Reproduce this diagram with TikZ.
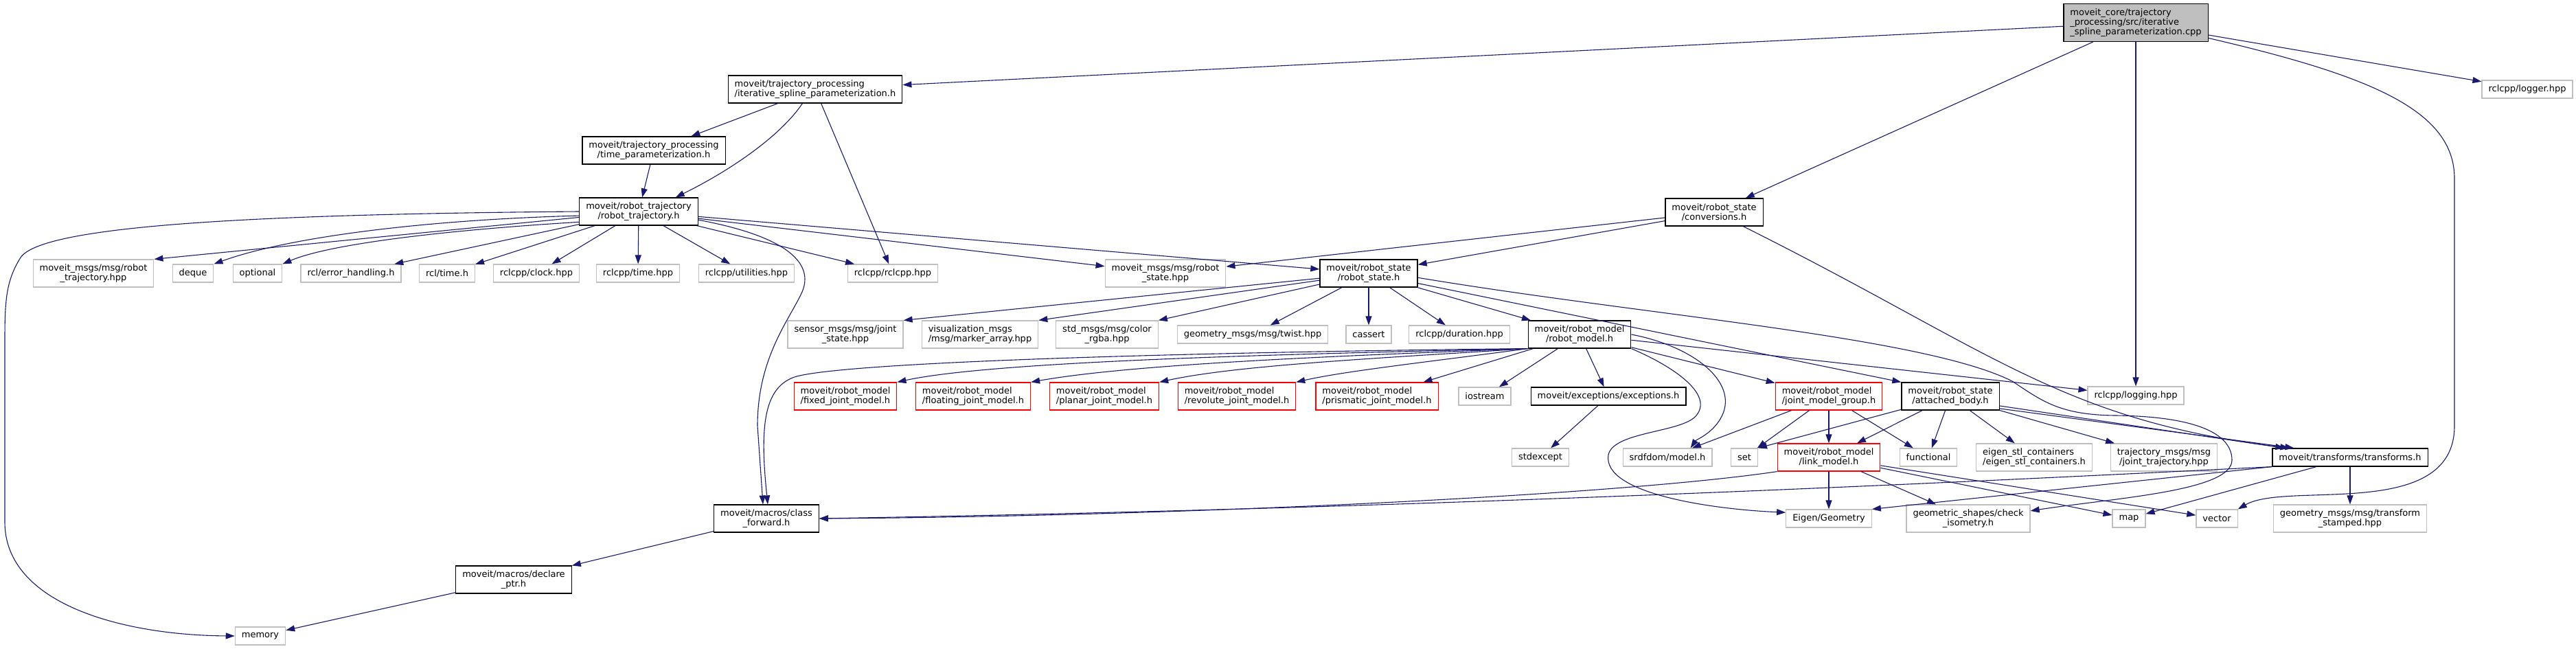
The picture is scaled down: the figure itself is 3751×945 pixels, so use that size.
\documentclass[tikz,border=0pt]{standalone}
\usepackage{fontspec}
\setmainfont{DejaVu Sans}
\usetikzlibrary{arrows.meta}
\definecolor{edgeblue}{HTML}{191970}
\definecolor{extgray}{HTML}{BFBFBF}
\tikzset{
  doc/.style={draw=black, fill=white, line width=1.2pt, inner xsep=9.5pt, inner ysep=2pt,
    minimum height=26pt, align=center, font=\fontsize{13pt}{14pt}\selectfont},
  ext/.style={doc, draw=extgray},
  trunc/.style={doc, draw=red},
  rootfile/.style={doc, fill=extgray},
  lft/.style={align=left},
  twoline/.style={minimum height=40pt},
  threeline/.style={minimum height=55pt},
  inc/.style={->, draw=edgeblue, line width=1.1pt}
}
\begin{document}
\begin{tikzpicture}[x=1pt,y=-1pt,>={Triangle[length=13pt,width=9pt]}]
\useasboundingbox (0,0) rectangle (3751,945);

\node[rootfile,threeline,lft] (root) at (3110,33) {moveit\_core/trajectory\\\_processing/src/iterative\\\_spline\_parameterization.cpp};
\node[ext] (logger) at (3680,130) {rclcpp/logger.hpp};
\node[doc,twoline,lft] (isp) at (1187,130) {moveit/trajectory\_processing\\/iterative\_spline\_parameterization.h};
\node[doc,twoline] (tparam) at (952,219) {moveit/trajectory\_processing\\/time\_parameterization.h};
\node[doc,twoline] (rtraj) at (930,308) {moveit/robot\_trajectory\\/robot\_trajectory.h};
\node[doc,twoline] (conv) at (2496,309) {moveit/robot\_state\\/conversions.h};

\node[ext,twoline] (mtraj) at (136,398) {moveit\_msgs/msg/robot\\\_trajectory.hpp};
\node[ext] (deque) at (281,398) {deque};
\node[ext] (optional) at (375,398) {optional};
\node[ext] (errh) at (511,398) {rcl/error\_handling.h};
\node[ext] (rcltime) at (651,398) {rcl/time.h};
\node[ext] (clock) at (781,398) {rclcpp/clock.hpp};
\node[ext] (ctime) at (929,398) {rclcpp/time.hpp};
\node[ext] (util) at (1087,398) {rclcpp/utilities.hpp};
\node[ext] (rclcpp) at (1300,398) {rclcpp/rclcpp.hpp};
\node[ext,twoline] (mstate) at (1697,398) {moveit\_msgs/msg/robot\\\_state.hpp};
\node[doc,twoline] (rstate) at (1993,398) {moveit/robot\_state\\/robot\_state.h};

\node[ext,twoline] (sensor) at (1231,487) {sensor\_msgs/msg/joint\\\_state.hpp};
\node[ext,twoline,lft] (vis) at (1427,487) {visualization\_msgs\\/msg/marker\_array.hpp};
\node[ext,twoline] (color) at (1612,487) {std\_msgs/msg/color\\\_rgba.hpp};
\node[ext] (twist) at (1824,487) {geometry\_msgs/msg/twist.hpp};
\node[ext] (cassert) at (1993,487) {cassert};
\node[ext] (duration) at (2125,487) {rclcpp/duration.hpp};
\node[doc,twoline] (rmodel) at (2300,487) {moveit/robot\_model\\/robot\_model.h};

\node[trunc,twoline,lft] (fixed) at (1231,577) {moveit/robot\_model\\/fixed\_joint\_model.h};
\node[trunc,twoline,lft] (floating) at (1417,577) {moveit/robot\_model\\/floating\_joint\_model.h};
\node[trunc,twoline,lft] (planar) at (1608,577) {moveit/robot\_model\\/planar\_joint\_model.h};
\node[trunc,twoline,lft] (revolute) at (1801,577) {moveit/robot\_model\\/revolute\_joint\_model.h};
\node[trunc,twoline,lft] (prismatic) at (2005,577) {moveit/robot\_model\\/prismatic\_joint\_model.h};
\node[ext] (iostream) at (2162,577) {iostream};
\node[doc] (exc) at (2342,577) {moveit/exceptions/exceptions.h};
\node[trunc,twoline,lft] (jmg) at (2663,577) {moveit/robot\_model\\/joint\_model\_group.h};
\node[doc,twoline] (abody) at (2840,577) {moveit/robot\_state\\/attached\_body.h};
\node[ext] (logging) at (3110,576) {rclcpp/logging.hpp};

\node[ext] (stdexc) at (2243,666) {stdexcept};
\node[ext] (srdf) at (2428,666) {srdfdom/model.h};
\node[ext] (set) at (2540,666) {set};
\node[trunc,twoline] (lmodel) at (2663,666) {moveit/robot\_model\\/link\_model.h};
\node[ext] (functional) at (2808,666) {functional};
\node[ext,twoline,lft] (estl) at (2962,666) {eigen\_stl\_containers\\/eigen\_stl\_containers.h};
\node[ext,twoline] (trajmsg) at (3151,666) {trajectory\_msgs/msg\\/joint\_trajectory.hpp};
\node[doc] (tf) at (3422,666) {moveit/transforms/transforms.h};

\node[doc,twoline] (cfwd) at (1116,755) {moveit/macros/class\\\_forward.h};
\node[ext] (eigen) at (2663,755) {Eigen/Geometry};
\node[ext,twoline] (geoshape) at (2866,755) {geometric\_shapes/check\\\_isometry.h};
\node[ext] (map) at (3100,755) {map};
\node[ext] (vector) at (3228,755) {vector};
\node[ext,twoline] (tstamped) at (3422,755) {geometry\_msgs/msg/transform\\\_stamped.hpp};

\node[doc,twoline] (declare) at (748,844) {moveit/macros/declare\\\_ptr.h};
\node[ext] (memory) at (379,926) {memory};

% includes of the .cpp
\draw[inc] (root) -- (isp);
\draw[inc] (root) -- (conv);
\draw[inc] (root) -- (logging);
\draw[inc] (root) -- (logger);
\draw[inc] (root.-12) .. controls (3450,110) and (3574,160) .. (3574,260) -- (3574,620)
  .. controls (3574,760) and (3330,700) .. (vector.north east);

\draw[inc] (isp) -- (tparam);
\draw[inc] (isp.228) .. controls (1135,200) and (1060,250) .. (rtraj.21);
\draw[inc] (isp) -- (rclcpp);
\draw[inc] (tparam) -- (rtraj);

% robot_trajectory.h
\draw[inc] (rtraj.west) .. controls (350,312) and (60,330) .. (30,375)
  .. controls (8,410) and (7,440) .. (7,500) -- (7,760)
  .. controls (7,880) and (180,925) .. (memory.west);
\draw[inc] (rtraj) -- (mtraj.north east);
\draw[inc] (rtraj.184) .. controls (620,320) and (420,345) .. (deque.north east);
\draw[inc] (rtraj.190) .. controls (650,335) and (480,355) .. (optional.north east);
\draw[inc] (rtraj) -- (errh);
\draw[inc] (rtraj) -- (rcltime);
\draw[inc] (rtraj) -- (clock);
\draw[inc] (rtraj) -- (ctime);
\draw[inc] (rtraj) -- (util);
\draw[inc] (rtraj) -- (rclcpp);
\draw[inc] (rtraj) -- (mstate);
\draw[inc] (rtraj) -- (rstate);
\draw[inc] (rtraj.-8) .. controls (1150,345) and (1185,385) .. (1168,425)
  .. controls (1150,465) and (1103,520) .. (1103,620) -- ([xshift=-5pt]cfwd.north);

\draw[inc] (conv) -- (mstate);
\draw[inc] (conv) -- (rstate);
\draw[inc] (conv.-26) .. controls (2900,510) and (3000,612) .. ([xshift=25pt]tf.north west);

% robot_state.h
\draw[inc] (rstate) -- (sensor.north east);
\draw[inc] (rstate) -- (vis.north east);
\draw[inc] (rstate) -- (color.north east);
\draw[inc] (rstate) -- (twist);
\draw[inc] (rstate) -- (cassert);
\draw[inc] (rstate) -- (duration);
\draw[inc] (rstate) -- (rmodel);
\draw[inc] (rstate) -- (abody.north west);
\draw[inc] (rstate.-5) .. controls (2400,460) and (2800,490) .. (2930,555)
  .. controls (2975,585) and (3000,604) .. (3080,605)
  .. controls (3180,606) and (3250,625) .. (3250,670)
  .. controls (3250,715) and (3080,725) .. (geoshape.7);

% robot_model.h
\draw[inc] (rmodel.south west) .. controls (1800,512) and (1250,525) .. (1160,548)
  .. controls (1112,562) and (1106,620) .. ([xshift=2pt]cfwd.north);
\draw[inc] (rmodel.south west) .. controls (1900,515) and (1450,525) .. (fixed.north east);
\draw[inc] (rmodel.south west) .. controls (1950,518) and (1650,530) .. (floating.north east);
\draw[inc] (rmodel.south west) .. controls (2000,522) and (1800,532) .. (planar.north east);
\draw[inc] (rmodel.south west) .. controls (2080,527) and (1960,540) .. (revolute.north east);
\draw[inc] (rmodel) -- (prismatic);
\draw[inc] (rmodel) -- (iostream);
\draw[inc] (rmodel) -- (exc);
\draw[inc] (rmodel) -- (jmg);
\draw[inc] (rmodel) -- (logging);
\draw[inc] (rmodel.east) .. controls (2470,505) and (2535,560) .. (2505,610)
  .. controls (2492,632) and (2470,640) .. (srdf.22);
\draw[inc] (rmodel.south east) .. controls (2440,535) and (2495,575) .. (2470,605)
  .. controls (2450,630) and (2350,628) .. (2342,662)
  .. controls (2332,720) and (2500,742) .. (eigen.172);
\draw[inc] (exc) -- (stdexc);

\draw[inc] (jmg) -- (srdf);
\draw[inc] (jmg) -- (set);
\draw[inc] (jmg) -- (lmodel);
\draw[inc] (jmg) -- (functional);

\draw[inc] (abody) -- (set.north east);
\draw[inc] (abody) -- (lmodel);
\draw[inc] (abody) -- (functional);
\draw[inc] (abody) -- (estl);
\draw[inc] (abody) -- (trajmsg);
\draw[inc] (abody.-11) -- ([xshift=18pt]tf.north west);
\draw[inc] (abody.-14) -- ([xshift=32pt]tf.north west);

\draw[inc] (lmodel) -- (eigen);
\draw[inc] (lmodel) -- (geoshape);
\draw[inc] (lmodel) -- (map);
\draw[inc] (lmodel) -- (vector);
\draw[inc] (lmodel.south west) .. controls (2350,722) and (1700,752) .. (cfwd.east);

\draw[inc] (tf.south west) .. controls (2900,700) and (2100,740) .. (cfwd.east);
\draw[inc] (tf.south west) -- (eigen.north east);
\draw[inc] (tf) -- (map);
\draw[inc] (tf) -- (tstamped);

\draw[inc] (cfwd) -- (declare);
\draw[inc] (declare) -- (memory);
\end{tikzpicture}
\end{document}
